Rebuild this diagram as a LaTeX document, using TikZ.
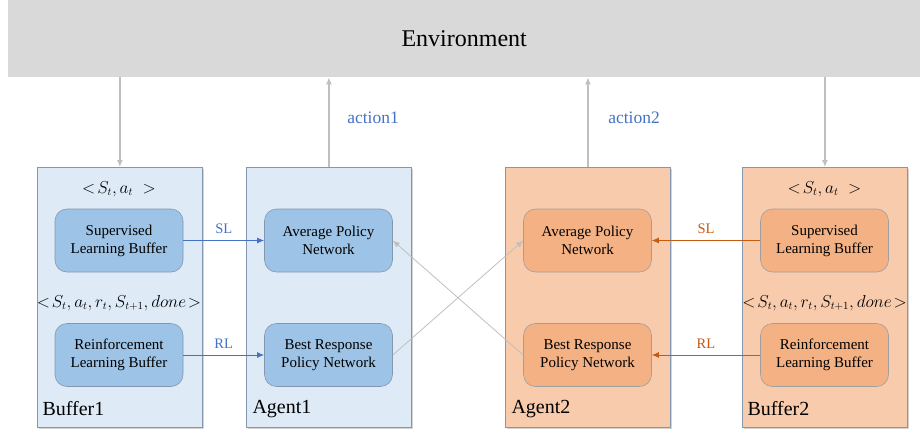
\documentclass[tikz,border=0pt]{standalone}
\usepackage{fontspec}
\setmainfont{Liberation Serif}
\newfontfamily\timesfont{Liberation Serif}
\usetikzlibrary{shadows,arrows.meta}
\definecolor{envgray}{HTML}{D9D9D9}
\definecolor{lineblue}{HTML}{4472C4}
\definecolor{lineorange}{HTML}{C55A11}
\definecolor{linegray}{HTML}{BFBFBF}
\definecolor{frame}{HTML}{8497B0}
\definecolor{paleblue}{HTML}{DEEBF7}
\definecolor{midblue}{HTML}{9DC3E6}
\definecolor{paleorange}{HTML}{F8CBAD}
\definecolor{midorange}{HTML}{F4B183}
\begin{document}
\begin{tikzpicture}[x=1pt,y=-1pt,
  outer/.style={draw=frame, line width=0.8pt, minimum width=165pt, minimum height=260pt,
    inner sep=0pt, anchor=north west,
    drop shadow={shadow xshift=1.5pt, shadow yshift=-1.5pt, opacity=0.35}},
  inner/.style={draw=#1, line width=0.6pt, rounded corners=12pt, minimum width=128pt,
    minimum height=63pt, align=center, inner sep=0pt, font=\timesfont\fontsize{15}{18}\selectfont},
  tuple/.style={font=\timesfont\fontsize{16}{20}\selectfont},
  tag/.style={anchor=west, font=\timesfont\fontsize{20}{22}\selectfont},
  flow/.style={line width=1.3pt, -{Latex[length=7pt,width=6pt]}},
  flowlabel/.style={font=\timesfont\fontsize{14.5}{16}\selectfont}]
  \useasboundingbox (0,0) rectangle (920,437);
  \node[fill=envgray, minimum width=912pt, minimum height=77pt, inner sep=0pt,
    anchor=north west, font=\timesfont\fontsize{24}{26}\selectfont] (env) at (8,0) {Environment};

  \node[outer, fill=paleblue] (b1) at (37,167) {};
  \node[outer, fill=paleblue] (a1) at (246,167) {};
  \node[outer, fill=paleorange] (a2) at (505,167) {};
  \node[outer, fill=paleorange] (b2) at (742,167) {};

  \node[inner=frame, fill=midblue] (sl1) at (119,240.5) {Supervised\\Learning Buffer};
  \node[inner=frame, fill=midblue] (rl1) at (119,355) {Reinforcement\\Learning Buffer};
  \node[inner=frame, fill=midblue] (ap1) at (328.5,240.5) {Average Policy\\Network};
  \node[inner=frame, fill=midblue] (br1) at (328.5,355) {Best Response\\Policy Network};
  \node[inner=gray!75, fill=midorange] (ap2) at (587.5,240.5) {Average Policy\\Network};
  \node[inner=gray!75, fill=midorange] (br2) at (587.5,355) {Best Response\\Policy Network};
  \node[inner=gray!75, fill=midorange] (sl2) at (824.5,240.5) {Supervised\\Learning Buffer};
  \node[inner=gray!75, fill=midorange] (rl2) at (824.5,355) {Reinforcement\\Learning Buffer};

  \node[tuple] (t1) at (119,189) {$<\!S_t,a_t\;>$};
  \node[tuple] (u1) at (119,303) {$<\!S_t,a_t,r_t,S_{t+1},done\!>$};
  \node[tuple] (t2) at (824.5,189) {$<\!S_t,a_t\;>$};
  \node[tuple] (u2) at (824.5,303) {$<\!S_t,a_t,r_t,S_{t+1},done\!>$};

  \node[tag] (n1) at (39,409) {Buffer1};
  \node[tag] (n2) at (249,409) {Agent1};
  \node[tag] (n3) at (508,409) {Agent2};
  \node[tag] (n4) at (744,409) {Buffer2};

  \draw[flow, linegray] (b1.north |- env.south) -- (b1.north);
  \draw[flow, linegray] (a1.north) -- (a1.north |- env.south);
  \draw[flow, linegray] (a2.north) -- (a2.north |- env.south);
  \draw[flow, linegray] (b2.north |- env.south) -- (b2.north);
  \node[flowlabel, lineblue, font=\timesfont\fontsize{17.5}{19}\selectfont] (act1) at (373,118) {action1};
  \node[flowlabel, lineblue, font=\timesfont\fontsize{17.5}{19}\selectfont] (act2) at (634,118) {action2};

  \draw[flow, lineblue, line width=1pt] (sl1) -- node[flowlabel, above=3pt] {SL} (ap1);
  \draw[flow, lineblue, line width=1pt] (rl1) -- node[flowlabel, above=3pt] {RL} (br1);
  \draw[flow, lineorange, line width=1pt] (sl2) -- node[flowlabel, above=3pt] {SL} (ap2);
  \draw[flow, lineorange, line width=1pt] (rl2) -- node[flowlabel, above=3pt] {RL} (br2);

  \draw[flow, linegray, line width=0.8pt] (br1.east) -- (ap2.west);
  \draw[flow, linegray, line width=0.8pt] (br2.west) -- (ap1.east);
\end{tikzpicture}
\end{document}
